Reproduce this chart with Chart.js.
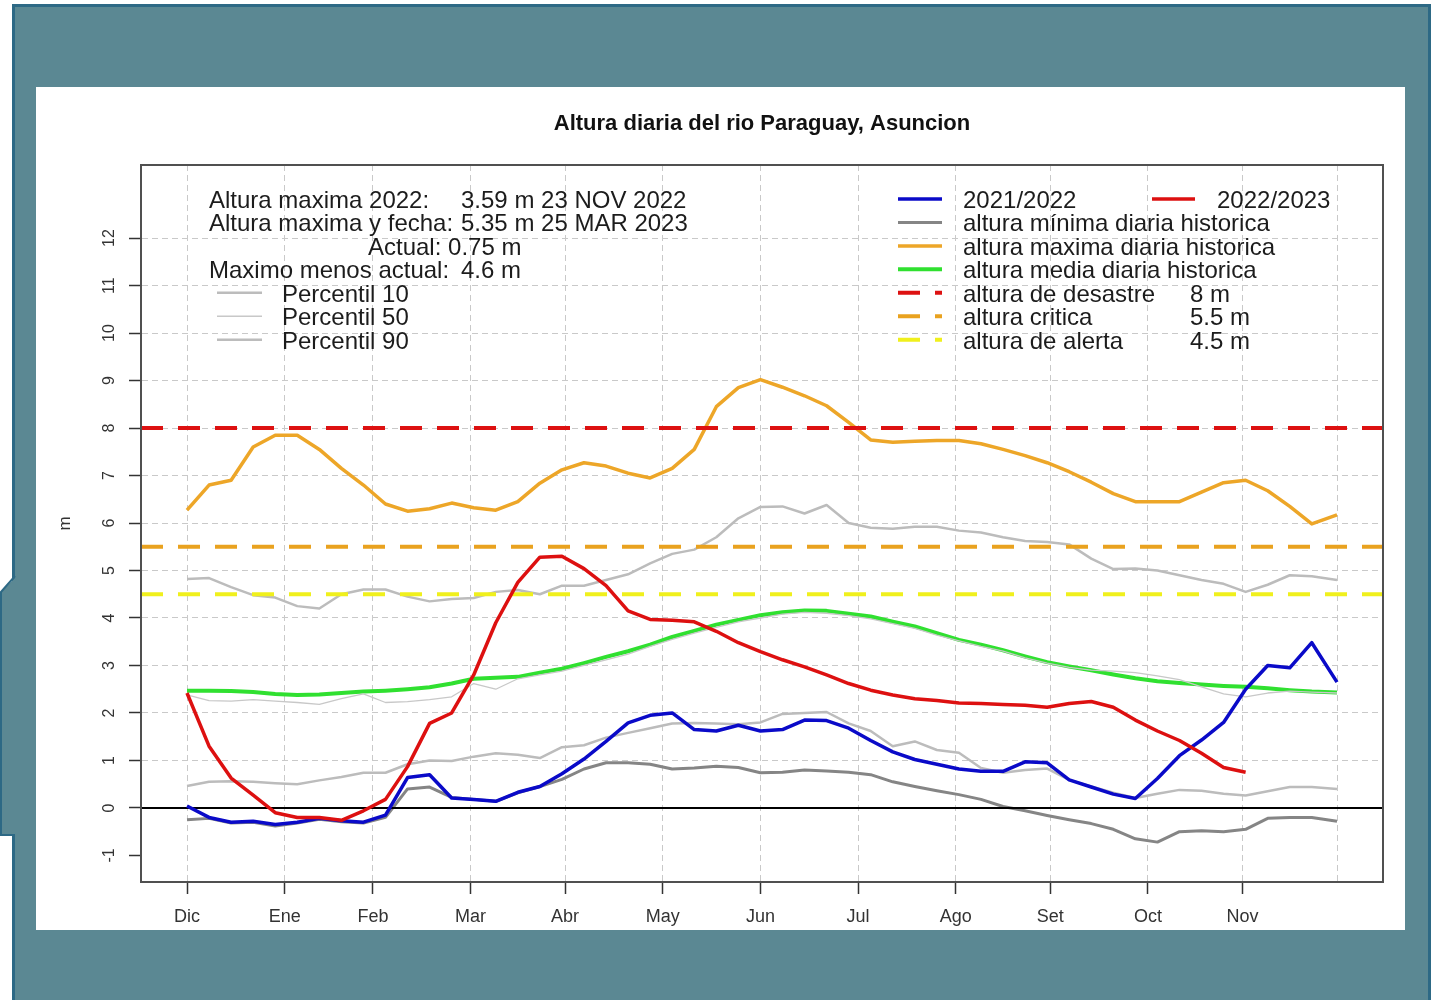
<!DOCTYPE html>
<html>
<head>
<meta charset="utf-8">
<script src="https://cdn.jsdelivr.net/npm/chart.js@4.4.1/dist/chart.umd.min.js"></script>
<style>
    html, body { margin: 0; padding: 0; background: #fff; width: 1442px; height: 1000px; overflow: hidden; }
    #frame { position: absolute; left: 12px; top: 4px; width: 1419px; height: 1010px; box-sizing: border-box;
             background: #5b8893; border: 3px solid #2d6985; }
    #tab   { position: absolute; left: 0; top: 576px; }
    #panel { position: absolute; left: 36px; top: 87px; width: 1369px; height: 843px; background: #fff; }
    canvas { display: block; }
</style>
</head>
<body>
<div id="frame"></div>
<svg id="tab" width="18" height="262">
    <polygon points="17,0 1,16 1,259 17,259" fill="#5b8893"/>
    <polyline points="15,0 1,16 1,259 15,259" fill="none" stroke="#2d6985" stroke-width="2"/>
</svg>
<div id="panel"><canvas id="river-chart" width="1369" height="843"></canvas></div>

<script>
// --- data (days counted from 1 Dec) -------------------------------------
const DAYS = [0, 7, 14, 21, 28, 35, 42, 49, 56, 63, 70, 77, 84, 91, 98, 105, 112, 119, 126, 133,
              140, 147, 154, 161, 168, 175, 182, 189, 196, 203, 210, 217, 224, 231, 238, 245, 252,
              259, 266, 273, 280, 287, 294, 301, 308, 315, 322, 329, 336, 343, 350, 357, 365];

const MONTH_DAYS   = [0, 31, 59, 90, 120, 151, 182, 213, 244, 274, 305, 335, 365];
const MONTH_LABELS = ['Dic', 'Ene', 'Feb', 'Mar', 'Abr', 'May', 'Jun', 'Jul', 'Ago', 'Set', 'Oct', 'Nov', ''];
const Y_TICKS      = [-1, 0, 1, 2, 3, 4, 5, 6, 7, 8, 9, 10, 11, 12];

const SEASON_2122 = [0.04, -0.20, -0.30, -0.28, -0.35, -0.30, -0.22, -0.27, -0.30, -0.15, 0.64, 0.70, 0.21,
                     0.18, 0.14, 0.33, 0.45, 0.72, 1.03, 1.40, 1.79, 1.95, 2.00, 1.65, 1.62, 1.74, 1.62,
                     1.65, 1.85, 1.84, 1.68, 1.42, 1.18, 1.02, 0.92, 0.82, 0.77, 0.77, 0.97, 0.95, 0.59,
                     0.44, 0.29, 0.20, 0.62, 1.10, 1.43, 1.80, 2.50, 3.00, 2.95, 3.48, 2.65];

const SEASON_2223 = [2.42, 1.30, 0.63, 0.27, -0.10, -0.20, -0.20, -0.26, -0.06, 0.18, 0.87, 1.78, 2.00,
                     2.80, 3.90, 4.75, 5.28, 5.30, 5.04, 4.68, 4.15, 3.97, 3.95, 3.92, 3.72, 3.48, 3.29,
                     3.12, 2.97, 2.80, 2.62, 2.48, 2.38, 2.30, 2.26, 2.21, 2.20, 2.18, 2.16, 2.12, 2.20,
                     2.24, 2.12, 1.85, 1.62, 1.42, 1.15, 0.85, 0.75];

const HIST_MIN = [-0.25, -0.22, -0.32, -0.30, -0.38, -0.32, -0.24, -0.29, -0.32, -0.20, 0.40, 0.44, 0.22,
                  0.18, 0.14, 0.32, 0.45, 0.60, 0.82, 0.95, 0.95, 0.92, 0.82, 0.84, 0.88, 0.85, 0.74,
                  0.75, 0.80, 0.78, 0.75, 0.70, 0.55, 0.45, 0.36, 0.28, 0.18, 0.03, -0.06, -0.16, -0.25,
                  -0.33, -0.45, -0.65, -0.72, -0.50, -0.48, -0.50, -0.45, -0.22, -0.20, -0.20, -0.28];

const HIST_MAX = [6.27, 6.80, 6.90, 7.60, 7.85, 7.85, 7.55, 7.15, 6.80, 6.40, 6.25, 6.30, 6.42,
                  6.32, 6.27, 6.45, 6.84, 7.12, 7.27, 7.20, 7.05, 6.95, 7.15, 7.55, 8.45, 8.85, 9.02,
                  8.86, 8.68, 8.47, 8.12, 7.75, 7.70, 7.72, 7.74, 7.74, 7.67, 7.55, 7.42, 7.27, 7.08,
                  6.86, 6.62, 6.45, 6.45, 6.45, 6.65, 6.85, 6.90, 6.68, 6.35, 5.98, 6.17];

const HIST_MEAN = [2.47, 2.47, 2.46, 2.44, 2.40, 2.38, 2.39, 2.42, 2.45, 2.47, 2.50, 2.54, 2.62,
                   2.72, 2.74, 2.76, 2.85, 2.93, 3.05, 3.18, 3.30, 3.44, 3.60, 3.73, 3.86, 3.96, 4.06,
                   4.12, 4.16, 4.15, 4.09, 4.03, 3.92, 3.82, 3.68, 3.54, 3.44, 3.32, 3.19, 3.07, 2.98,
                   2.90, 2.81, 2.73, 2.67, 2.63, 2.60, 2.57, 2.55, 2.52, 2.48, 2.45, 2.43];

const P10 = [0.46, 0.55, 0.56, 0.55, 0.52, 0.50, 0.58, 0.65, 0.74, 0.74, 0.92, 1.00, 0.99,
             1.08, 1.15, 1.12, 1.05, 1.28, 1.32, 1.48, 1.58, 1.68, 1.78, 1.79, 1.78, 1.76, 1.80,
             1.98, 2.00, 2.02, 1.78, 1.62, 1.30, 1.40, 1.22, 1.16, 0.84, 0.74, 0.80, 0.83, 0.59,
             0.45, 0.32, 0.21, 0.30, 0.38, 0.36, 0.30, 0.26, 0.35, 0.44, 0.44, 0.40];

const P50 = [2.38, 2.26, 2.25, 2.28, 2.25, 2.22, 2.18, 2.30, 2.40, 2.22, 2.24, 2.28, 2.34,
             2.62, 2.50, 2.72, 2.80, 2.88, 3.00, 3.12, 3.24, 3.40, 3.55, 3.68, 3.80, 3.92, 4.00,
             4.08, 4.12, 4.10, 4.05, 3.98, 3.88, 3.78, 3.64, 3.52, 3.40, 3.30, 3.16, 3.05, 2.96,
             2.90, 2.88, 2.85, 2.78, 2.70, 2.55, 2.40, 2.34, 2.42, 2.46, 2.44, 2.42];

const P90 = [4.82, 4.84, 4.65, 4.48, 4.43, 4.25, 4.20, 4.50, 4.60, 4.60, 4.45, 4.35, 4.40,
             4.42, 4.55, 4.59, 4.50, 4.68, 4.68, 4.80, 4.92, 5.15, 5.35, 5.44, 5.70, 6.10, 6.34,
             6.35, 6.20, 6.38, 6.00, 5.90, 5.88, 5.92, 5.92, 5.84, 5.80, 5.70, 5.62, 5.60, 5.55,
             5.25, 5.03, 5.04, 5.00, 4.90, 4.80, 4.72, 4.55, 4.70, 4.90, 4.88, 4.80];

const LEVEL_NAMES  = ['altura de desastre', 'altura critica', 'altura de alerta'];
const LEVEL_VALUES = [8, 5.5, 4.5];

const SUMMARY_LABELS = ['Altura maxima 2022:', 'Altura maxima y fecha:', 'Actual: 0.75 m', 'Maximo menos actual:'];
const SUMMARY_VALUES = ['3.59 m 23 NOV 2022', '5.35 m 25 MAR 2023', '', '4.6 m'];

const TITLE = 'Altura diaria del rio Paraguay, Asuncion';

const X_MIN = -14.6, X_MAX = 379.6;
const Y_MIN = -1.56, Y_MAX = 13.54;

// --- styling -------------------------------------------------------------
const FONT  = '"Liberation Sans", Arial, sans-serif';
const TEXT  = '#1c1c1c';
const GRID  = '#c9c9c9';
const LEVEL_COLORS = ['#dd1111', '#e9a21f', '#f0f01c'];

const toPoints = (values) => values.map((v, i) => ({ x: DAYS[i], y: v }));
const flatLine = (v) => [{ x: X_MIN, y: v }, { x: X_MAX, y: v }];

function line(label, values, color, width, extra) {
    return Object.assign({
        label,
        data            : toPoints(values),
        borderColor     : color,
        borderWidth     : width,
        pointRadius     : 0,
        tension         : 0,
        fill            : false,
        borderJoinStyle : 'round',
    }, extra || {});
}

// first dataset is drawn on top
const datasets = [
    line('2022/2023', SEASON_2223, '#dd1010', 3.5),
    line('2021/2022', SEASON_2122, '#0a0ac8', 3.5),
    ...LEVEL_NAMES.map((name, i) => ({
        label : name, data : flatLine(LEVEL_VALUES[i]), borderColor : LEVEL_COLORS[i],
        borderWidth : 4, borderDash : [22, 15], pointRadius : 0,
    })),
    { label : 'cero', data : flatLine(0), borderColor : '#000', borderWidth : 2, pointRadius : 0 },
    line('Percentil 50', P50, '#c8c8c8', 1.3),
    line('Percentil 10', P10, '#bcbcbc', 2.5),
    line('Percentil 90', P90, '#bcbcbc', 2.5),
    line('altura media diaria historica', HIST_MEAN, '#30e030', 4),
    line('altura maxima diaria historica', HIST_MAX, '#eda628', 3.5),
    line('altura mínima diaria historica', HIST_MIN, '#858585', 3),
];

const boxPlugin = {
    id : 'plotBox',
    afterDatasetsDraw(chart) {
        const { ctx, chartArea: a } = chart;
        ctx.save();
        ctx.strokeStyle = '#505050';
        ctx.lineWidth = 2;
        ctx.strokeRect(a.left, a.top, a.right - a.left, a.bottom - a.top);
        ctx.restore();
    },
};

const legendPlugin = {
    id : 'riverLegend',
    afterDraw(chart) {
        const { ctx, chartArea: a } = chart;
        const ds  = (label) => chart.data.datasets.find(d => d.label === label);
        const sample = (d, x1, x2, y) => {
            ctx.save();
            ctx.strokeStyle = d.borderColor;
            ctx.lineWidth   = d.borderWidth;
            ctx.setLineDash(d.borderDash || []);
            ctx.beginPath();
            ctx.moveTo(x1, y);
            ctx.lineTo(x2, y);
            ctx.stroke();
            ctx.restore();
        };

        ctx.save();
        // title, centred over the plot box
        ctx.font         = `bold 22px ${FONT}`;
        ctx.fillStyle    = '#111';
        ctx.textAlign    = 'center';
        ctx.textBaseline = 'middle';
        ctx.fillText(TITLE, (a.left + a.right) / 2, 37);

        ctx.font         = `24px ${FONT}`;
        ctx.fillStyle    = TEXT;
        ctx.textAlign    = 'left';
        ctx.textBaseline = 'alphabetic';

        const step = 23.45, top = 121;

        // left block: summary + percentiles
        const labelX = [173, 173, 332, 173];
        SUMMARY_LABELS.forEach((t, i) => {
            const y = top + i * step;
            ctx.fillText(t, labelX[i], y);
            if (SUMMARY_VALUES[i]) ctx.fillText(SUMMARY_VALUES[i], 425, y);
        });
        ['Percentil 10', 'Percentil 50', 'Percentil 90'].forEach((name, i) => {
            const y = top + (i + 4) * step;
            sample(ds(name), 181, 226, y - 9);
            ctx.fillText(name, 246, y);
        });

        // right block: series + levels
        sample(ds('2021/2022'), 862, 906, top - 9);
        ctx.fillText('2021/2022', 927, top);
        sample(ds('2022/2023'), 1116, 1159, top - 9);
        ctx.fillText('2022/2023', 1181, top);

        const rows = ['altura mínima diaria historica', 'altura maxima diaria historica',
                      'altura media diaria historica', ...LEVEL_NAMES];
        rows.forEach((name, i) => {
            const y = top + (i + 1) * step;
            sample(ds(name), 862, 906, y - 9);
            ctx.fillText(name, 927, y);
            const li = LEVEL_NAMES.indexOf(name);
            if (li >= 0) ctx.fillText(`${LEVEL_VALUES[li]} m`, 1154, y);
        });
        ctx.restore();
    },
};

const ctx = document.getElementById('river-chart').getContext('2d');

new Chart(ctx, {
    type : 'line',
    data : { datasets },
    plugins : [boxPlugin, legendPlugin],
    options : {
        responsive : false,
        animation  : false,
        layout     : { padding: { left: 0, right: 22, top: 78, bottom: 0 } },
        plugins : {
            legend  : { display: false },
            tooltip : { enabled: false },
            title   : { display: false },
        },
        scales : {
            x : {
                type : 'linear',
                min  : X_MIN,
                max  : X_MAX,
                afterBuildTicks : (s) => { s.ticks = MONTH_DAYS.map(v => ({ value: v })); },
                afterFit        : (s) => { s.height = 48; },
                ticks : {
                    autoSkip    : false,
                    maxRotation : 0,
                    padding     : 12,
                    color       : '#333',
                    font        : { family: FONT, size: 18 },
                    callback    : (v, i) => MONTH_LABELS[i],
                },
                grid : {
                    color          : GRID,
                    lineWidth      : 1,
                    tickLength     : 12,
                    tickWidth      : 1.5,
                    tickBorderDash : [],
                    tickColor      : (c) => (c.index === MONTH_DAYS.length - 1 ? 'rgba(0,0,0,0)' : '#333'),
                },
                border : { color: '#505050', width: 2, dash: [6, 4] },
            },
            y : {
                min : Y_MIN,
                max : Y_MAX,
                afterBuildTicks : (s) => { s.ticks = Y_TICKS.map(v => ({ value: v })); },
                afterFit        : (s) => { s.width = 105; },
                ticks : {
                    minRotation : 90,
                    maxRotation : 90,
                    crossAlign  : 'center',
                    padding     : 11,
                    color       : '#333',
                    font        : { family: FONT, size: 16 },
                    callback    : (v) => String(v),
                },
                grid : {
                    color          : (c) => (c.tick && c.tick.value > 0 ? GRID : 'rgba(0,0,0,0)'),
                    lineWidth      : 1,
                    tickLength     : 12,
                    tickWidth      : 1.5,
                    tickBorderDash : [],
                    tickColor      : '#333',
                },
                border : { color: '#505050', width: 2, dash: [6, 4] },
                title  : {
                    display : true,
                    text    : 'm',
                    color   : '#333',
                    font    : { family: FONT, size: 17 },
                    padding : { top: 19, bottom: 0 },
                },
            },
        },
    },
});
</script>
</body>
</html>
